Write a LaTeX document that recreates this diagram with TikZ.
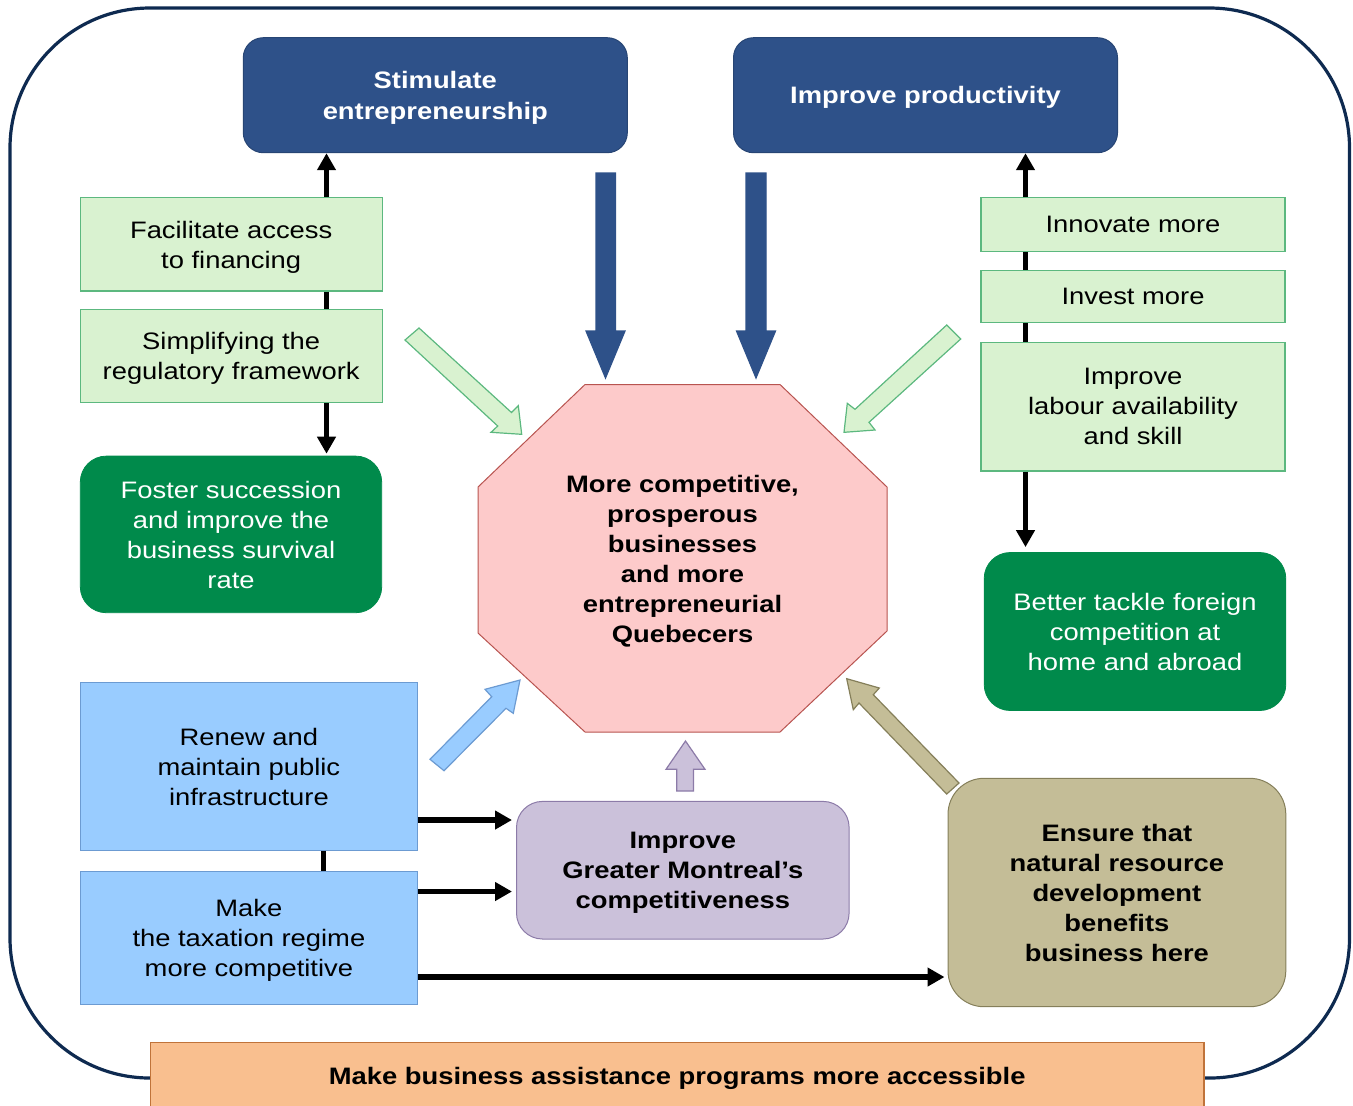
\documentclass[tikz,border=0pt]{standalone}
\usepackage{fontspec}
\setmainfont{Liberation Sans}[FakeStretch=1.15]
\usetikzlibrary{arrows.meta}
\definecolor{navy}{HTML}{2E5189}
\definecolor{navyline}{HTML}{0E2A50}
\definecolor{lgfill}{HTML}{D9F2D0}
\definecolor{lgline}{HTML}{5CB87F}
\definecolor{dgreen}{HTML}{008A4B}
\definecolor{pinkf}{HTML}{FDCACA}
\definecolor{pinkl}{HTML}{B85450}
\definecolor{lblue}{HTML}{99CCFF}
\definecolor{lbluel}{HTML}{6C9BD2}
\definecolor{lavf}{HTML}{CBC1DA}
\definecolor{lavl}{HTML}{8C7BA8}
\definecolor{tanf}{HTML}{C4BD97}
\definecolor{tanl}{HTML}{857F5A}
\definecolor{orangef}{HTML}{F9BF8F}
\definecolor{orangel}{HTML}{C0733A}
\newcommand\fs{\fontsize{11.9}{15}\selectfont}
\tikzset{
  txt/.style={font=\fs, align=center, inner sep=0pt, text depth=0pt},
  hdr/.style={txt, draw=navy!85!black, fill=navy, text=white, font=\fontsize{11.9}{15.5}\selectfont\bfseries, rounded corners=10pt, minimum width=192pt, minimum height=57.5pt, line width=0.5pt},
  lgbox/.style={txt, draw=lgline, fill=lgfill, minimum width=151pt, line width=0.6pt},
  dgbox/.style={txt, fill=dgreen, draw=dgreen, text=white, rounded corners=13pt},
  lbbox/.style={txt, draw=lbluel, fill=lblue, minimum width=168.5pt, line width=0.5pt},
  conn/.style={line width=2.75pt, -{Triangle[width=9pt,length=8.5pt]}},
  plainline/.style={line width=2.75pt},
  blk/.style={line width=0.6pt, line join=miter},
}
\begin{document}
\begin{tikzpicture}[x=0.5pt, y=-0.5pt]
\useasboundingbox (0,0) rectangle (1353,1105);
% outer frame
\draw[navyline, line width=1.6pt, rounded corners=70pt] (10,8) rectangle (1349.5,1078);
% central octagon
\draw[fill=pinkf, draw=pinkl, line width=0.5pt] (585,384.5) -- (780,384.5) -- (887,487) -- (887,631) -- (780,732) -- (585,732) -- (478,633) -- (478,487) -- cycle;
\node[txt, font=\fs\bfseries] (core) at (682.5,559) {More competitive,\\prosperous\\businesses\\and more\\entrepreneurial\\Quebecers};
% headers
\node[hdr] (stim) at (435.3,95.2) {Stimulate\\entrepreneurship};
\node[hdr] (prod) at (925.5,95.2) {Improve productivity};
% left column
\node[lgbox, minimum height=46.6pt] (fac) at (231.2,244.4) {Facilitate access\\to financing};
\node[lgbox, minimum height=46.5pt] (simp) at (231.2,355.8) {Simplifying the\\regulatory framework};
\node[dgbox, minimum width=150.7pt, minimum height=78.3pt] (fost) at (231,534.4) {Foster succession\\and improve the\\business survival\\rate};
% right column
\node[lgbox, minimum width=152pt, minimum height=26.8pt] (innov) at (1133,224.5) {Innovate more};
\node[lgbox, minimum width=152pt, minimum height=26pt] (invest) at (1133,296.3) {Invest more};
\node[lgbox, minimum width=152pt, minimum height=64.3pt] (labour) at (1133,406.6) {Improve\\labour availability\\and skill};
\node[dgbox, minimum width=150.8pt, minimum height=79pt] (better) at (1135,631.5) {Better tackle foreign\\competition at\\home and abroad};
% bottom
\node[lbbox, minimum height=83.8pt] (renew) at (248.9,766.5) {Renew and\\maintain public\\infrastructure};
\node[lbbox, minimum height=66.4pt] (make) at (248.9,937.7) {Make\\the taxation regime\\more competitive};
\node[txt, font=\fs\bfseries, draw=lavl, fill=lavf, line width=0.5pt, rounded corners=13pt, minimum width=166.3pt, minimum height=68.8pt] (gm) at (682.8,870.2) {Improve\\Greater Montreal’s\\competitiveness};
\node[txt, font=\fs\bfseries, draw=tanl, fill=tanf, line width=0.5pt, rounded corners=18pt, minimum width=168.9pt, minimum height=114.2pt] (ens) at (1116.9,892.5) {Ensure that\\natural resource\\development\\benefits\\business here};
% block arrows
\draw[blk, fill=navy, draw=navy] (596,173) -- (615.5,173) -- (615.5,331) -- (625,331) -- (605.5,378) -- (586,331) -- (596,331) -- cycle;
\draw[blk, fill=navy, draw=navy] (746,173) -- (766,173) -- (766,331) -- (775.5,331) -- (756,378) -- (736.5,331) -- (746,331) -- cycle;
\draw[blk, fill=lgfill, draw=lgline] (405,340) -- (419,328) -- (511.5,412.5) -- (518.3,405.7) -- (521.7,434.3) -- (491,432.3) -- (497.7,426) -- cycle;
\draw[blk, fill=lgfill, draw=lgline] (946.7,325) -- (960.7,339) -- (869,422.3) -- (875,430) -- (844,432.3) -- (847.3,403.3) -- (855,409.3) -- cycle;
\draw[blk, fill=lblue, draw=lbluel] (430,759.3) -- (491.7,696.7) -- (485,689.3) -- (520,680) -- (513.3,713.3) -- (506,708.3) -- (444,770.7) -- cycle;
\draw[blk, fill=tanf, draw=tanl] (846.7,678.7) -- (879.3,688) -- (873.3,694.7) -- (959,783) -- (946.7,794) -- (859,703) -- (853.3,709.7) -- cycle;
\draw[blk, fill=lavf, draw=lavl] (676.7,791) -- (676.7,769.3) -- (666,769.3) -- (685.5,741) -- (705,769.3) -- (693.5,769.3) -- (693.5,791) -- cycle;
% connectors
\coordinate (lx) at (326.5,0);
\coordinate (rx) at (1025.5,0);
\coordinate (bx) at (323.5,0);
\coordinate (y1) at (0,820);
\coordinate (y2) at (0,891.5);
\coordinate (y3) at (0,977);
\draw[conn] (fac.north -| lx) -- (stim.south -| lx);
\draw[plainline] (fac.south -| lx) -- (simp.north -| lx);
\draw[conn, shorten >=1pt] (simp.south -| lx) -- (fost.north -| lx);
\draw[conn] (innov.north -| rx) -- (prod.south -| rx);
\draw[plainline] (innov.south -| rx) -- (invest.north -| rx);
\draw[plainline] (invest.south -| rx) -- (labour.north -| rx);
\draw[conn, shorten >=2.5pt] (labour.south -| rx) -- (better.north -| rx);
\draw[plainline] (renew.south -| bx) -- (make.north -| bx);
\draw[conn, shorten >=2pt] (renew.east |- y1) -- (gm.west |- y1);
\draw[conn, shorten >=2pt] (make.east |- y2) -- (gm.west |- y2);
\draw[conn, shorten >=1.5pt] (make.east |- y3) -- (ens.west |- y3);
% bottom bar
\node[txt, font=\fs\bfseries, draw=orangel, fill=orangef, line width=0.6pt, minimum width=526.8pt, minimum height=33.75pt] (bar) at (677.2,1076.25) {Make business assistance programs more accessible};
\end{tikzpicture}
\end{document}
